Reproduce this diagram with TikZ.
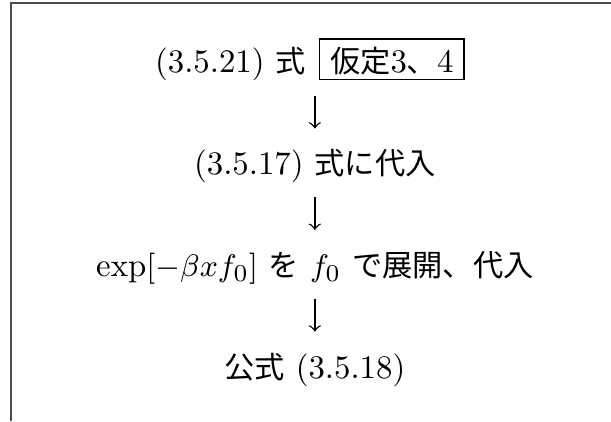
\documentclass[tikz,border=0pt]{standalone}
\usepackage{fontspec}
\newfontfamily\cjk[Scale=0.92]{Noto Sans CJK JP}
\usetikzlibrary{positioning,calc,arrows}

\tikzset{
  step line/.style={inner sep=1pt, font=\fontsize{9.5}{11.4}\selectfont},
  hyp box/.style={draw, line width=0.4pt, inner xsep=3pt, inner ysep=1pt,
    text height=8.7pt, text depth=0.9pt, font=\fontsize{9.5}{11.4}\selectfont},
  down arrow/.style={->, line width=0.4pt},
}

\begin{document}
\begin{tikzpicture}[x=1pt,y=1pt]
		\useasboundingbox (0,0) rectangle (176.6,121.7);
		% frame (cut off at right and bottom)
		\draw[line width=0.58pt, black!70] (3.2,0) -- (3.2,120.8) -- (176.6,120.8);

		\node[step line, anchor=base east] (l1) at (89.6,100.7) {(3.5.21) {\cjk 式}};
		\node[hyp box, base right=2.6pt of l1] (hyp) {{\cjk 仮定}3{\cjk 、}4};
		\node[step line, anchor=base] (l2) at (91,71.2) {(3.5.17) {\cjk 式に代入}};
		\node[step line, anchor=base] (l3) at (91,41.8) {$\exp[-\beta x f_0]$ {\cjk を} $f_0$ {\cjk で展開、代入}};
		\node[step line, anchor=base] (l4) at (91,12.3) {{\cjk 公式} (3.5.18)};

		% arrows between the rows
		\foreach \y/\name in {89.3/a1, 60.0/a2, 30.6/a3} {
			\coordinate (\name) at (91,\y+4.75);
			\draw[down arrow] (\name) -- ++(0,-9.5);
		}
	\end{tikzpicture}
\end{document}
